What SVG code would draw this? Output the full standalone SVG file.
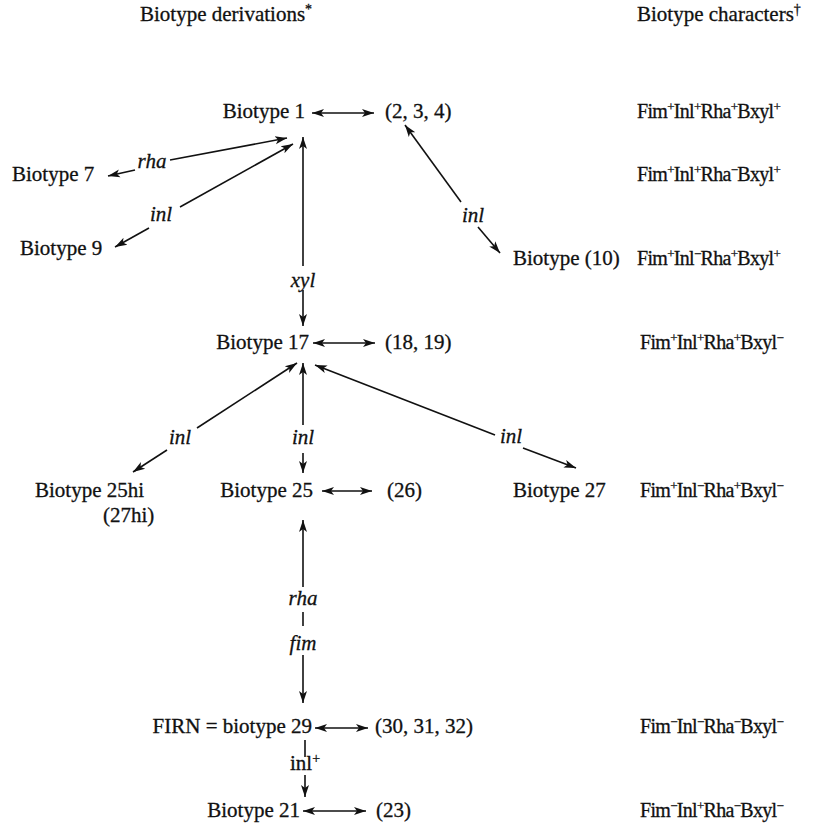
<svg xmlns="http://www.w3.org/2000/svg" width="818" height="823" viewBox="0 0 818 823">
<style>
text{font-family:"Liberation Serif","Times New Roman",serif;font-size:21px;fill:#111;stroke:#111;stroke-width:0.3}
.it{font-style:italic}
.s{font-size:14px;baseline-shift:super}
.ch{font-size:20px;letter-spacing:-0.7px}
.ch .s{font-size:13px}
.c{text-anchor:middle}
.e{text-anchor:end}
.ln{stroke:#111;stroke-width:1.6;fill:none}
.a2{marker-start:url(#ah);marker-end:url(#ah)}
.a1{marker-end:url(#ah)}
</style>
<defs>
<marker id="ah" markerUnits="userSpaceOnUse" markerWidth="14" markerHeight="10" refX="12" refY="5" orient="auto-start-reverse">
<path d="M0,1 L12,5 L0,9 L3,5 z" fill="#111"/>
</marker>
</defs>
<g id="headers">
<text x="140" y="21">Biotype derivations<tspan class="s">*</tspan></text>
<text x="637" y="21">Biotype characters<tspan class="s">†</tspan></text>
</g>
<g id="b1"><text class="e" x="305" y="118">Biotype 1</text></g>
<g id="b2-4"><text x="385" y="118">(2, 3, 4)</text></g>
<g id="b7"><text x="12" y="181">Biotype 7</text></g>
<g id="b9"><text x="20" y="255">Biotype 9</text></g>
<g id="b10"><text x="513" y="265">Biotype (10)</text></g>
<g id="b17"><text class="e" x="309" y="349">Biotype 17</text></g>
<g id="b18-19"><text x="385" y="349">(18, 19)</text></g>
<g id="b25hi"><text x="35" y="497">Biotype 25hi</text><text x="103" y="522">(27hi)</text></g>
<g id="b25"><text class="e" x="313" y="497">Biotype 25</text></g>
<g id="b26"><text x="387" y="497">(26)</text></g>
<g id="b27"><text x="513" y="497">Biotype 27</text></g>
<g id="b29"><text class="e" x="312" y="733">FIRN = biotype  29</text></g>
<g id="b30-32"><text x="375" y="733">(30, 31, 32)</text></g>
<g id="b21"><text class="e" x="300" y="817">Biotype 21</text></g>
<g id="b23"><text x="376" y="817">(23)</text></g>
<g id="characters">
<text class="ch" x="637" y="118">Fim<tspan class="s">+</tspan>Inl<tspan class="s">+</tspan>Rha<tspan class="s">+</tspan>Bxyl<tspan class="s">+</tspan></text>
<text class="ch" x="637" y="181">Fim<tspan class="s">+</tspan>Inl<tspan class="s">+</tspan>Rha<tspan class="s">−</tspan>Bxyl<tspan class="s">+</tspan></text>
<text class="ch" x="637" y="265">Fim<tspan class="s">+</tspan>Inl<tspan class="s">−</tspan>Rha<tspan class="s">+</tspan>Bxyl<tspan class="s">+</tspan></text>
<text class="ch" x="640" y="349">Fim<tspan class="s">+</tspan>Inl<tspan class="s">+</tspan>Rha<tspan class="s">+</tspan>Bxyl<tspan class="s">−</tspan></text>
<text class="ch" x="640" y="497">Fim<tspan class="s">+</tspan>Inl<tspan class="s">−</tspan>Rha<tspan class="s">+</tspan>Bxyl<tspan class="s">−</tspan></text>
<text class="ch" x="640" y="733">Fim<tspan class="s">−</tspan>Inl<tspan class="s">−</tspan>Rha<tspan class="s">−</tspan>Bxyl<tspan class="s">−</tspan></text>
<text class="ch" x="640" y="817">Fim<tspan class="s">−</tspan>Inl<tspan class="s">+</tspan>Rha<tspan class="s">−</tspan>Bxyl<tspan class="s">−</tspan></text>
</g>
<g id="connectors">
<line class="ln a2" x1="312" y1="113" x2="374" y2="113"/>
<line class="ln a2" x1="313" y1="343" x2="375" y2="343"/>
<line class="ln a2" x1="322" y1="491" x2="372" y2="491"/>
<line class="ln a2" x1="315" y1="728" x2="368" y2="728"/>
<line class="ln a2" x1="303" y1="811" x2="366" y2="811"/>
<line class="ln a1" x1="170" y1="160" x2="287" y2="138"/>
<line class="ln a1" x1="135" y1="170" x2="108" y2="176"/>
<text class="it c" x="152" y="168">rha</text>
<line class="ln a1" x1="180" y1="207" x2="293" y2="144"/>
<line class="ln a1" x1="149" y1="228" x2="115" y2="247"/>
<text class="it c" x="161" y="221">inl</text>
<line class="ln a1" x1="461" y1="202" x2="405" y2="125"/>
<line class="ln a1" x1="478" y1="227" x2="500" y2="253"/>
<text class="it c" x="473" y="222">inl</text>
<line class="ln a1" x1="303" y1="266" x2="303" y2="137"/>
<line class="ln a1" x1="303" y1="290" x2="303" y2="326"/>
<text class="it c" x="303" y="287">xyl</text>
<line class="ln a1" x1="197" y1="428" x2="297" y2="363"/>
<line class="ln a1" x1="167" y1="450" x2="133" y2="472"/>
<text class="it c" x="180" y="444">inl</text>
<line class="ln a1" x1="303" y1="425" x2="303" y2="363"/>
<line class="ln a1" x1="303" y1="453" x2="303" y2="473"/>
<text class="it c" x="303" y="444">inl</text>
<line class="ln a1" x1="495" y1="435" x2="315" y2="365"/>
<line class="ln a1" x1="523" y1="448" x2="576" y2="468"/>
<text class="it c" x="511" y="443">inl</text>
<line class="ln a1" x1="303" y1="587" x2="303" y2="520"/>
<line class="ln" x1="303" y1="612" x2="303" y2="626"/>
<text class="it c" x="303" y="605">rha</text>
<line class="ln a1" x1="303" y1="655" x2="303" y2="703"/>
<text class="it c" x="303" y="650">fim</text>
<line class="ln" x1="305" y1="740" x2="305" y2="757"/>
<line class="ln a1" x1="305" y1="775" x2="305" y2="797"/>
<text class="c" x="305" y="770">inl<tspan class="s">+</tspan></text>
</g>
</svg>
